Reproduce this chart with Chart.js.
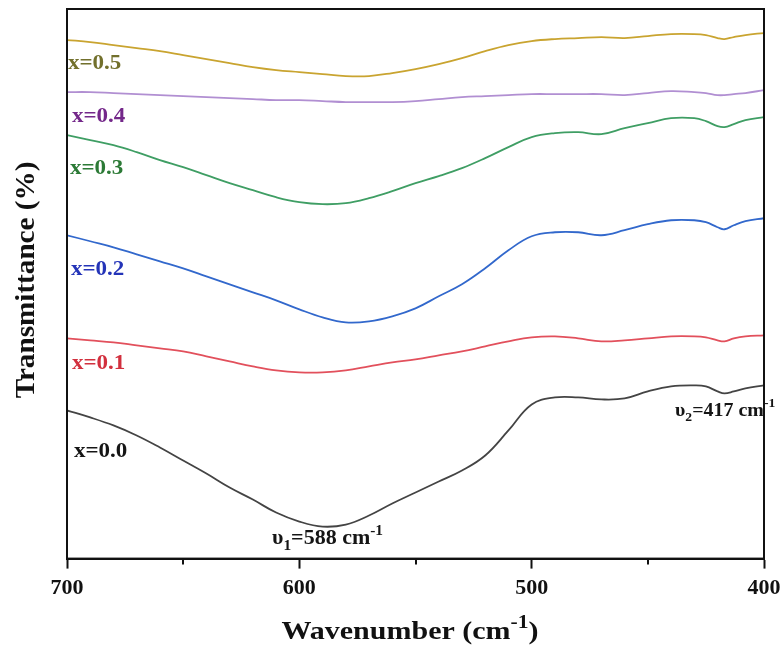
<!DOCTYPE html>
<html>
<head>
<meta charset="utf-8">
<script src="https://cdn.jsdelivr.net/npm/chart.js@4/dist/chart.umd.min.js"></script>
<style>
  html, body { margin: 0; padding: 0; background: #fff; }
  #wrap { width: 780px; height: 650px; }
</style>
</head>
<body>
<div id="wrap"><canvas id="ftir"></canvas></div>
<script>
// wavenumbers (cm-1)
var wavenumbers = [700, 690, 680, 670, 660, 650, 640, 630, 620, 610, 600, 590, 580, 570, 560, 550, 540, 530, 520, 510, 500, 490, 480, 470, 460, 450, 440, 430, 425, 420, 417, 413, 408, 400];

// transmittance, arbitrary offset units (curves are stacked)
var t00 = [148, 141, 133, 123, 111, 98, 85, 71, 59, 46, 37, 32, 34, 43, 55, 66, 77, 88, 103, 128, 154, 161, 161, 159, 160, 167, 172, 173, 172, 167, 165, 167, 170, 173];
var t01 = [220, 218, 216, 213, 210, 207, 202, 197, 192, 188, 186, 186, 188, 192, 196, 199, 203, 207, 212, 217, 221, 222, 220, 217, 218, 220, 222, 222, 221, 218, 217, 220, 222, 223];
var t02 = [323, 317, 311, 304, 297, 290, 282, 274, 266, 258, 249, 241, 236, 237, 242, 250, 262, 274, 290, 308, 322, 326, 326, 323, 328, 334, 338, 338, 336, 331, 329, 333, 337, 340];
var t03 = [423, 418, 413, 406, 398, 391, 383, 375, 368, 361, 356, 354, 355, 360, 367, 375, 382, 390, 400, 411, 421, 425, 426, 424, 430, 435, 440, 440, 437, 432, 431, 434, 438, 441];
var t04 = [466, 466, 465, 464, 463, 462, 461, 460, 459, 458, 458, 457, 456, 456, 456, 457, 459, 461, 462, 463, 464, 464, 464, 464, 463, 465, 467, 466, 465, 463, 463, 464, 465, 468];
var t05 = [518, 516, 513, 510, 507, 503, 499, 495, 491, 488, 486, 484, 482, 482, 485, 489, 494, 500, 507, 513, 517, 519, 520, 521, 520, 522, 524, 524, 523, 520, 519, 521, 523, 525];

var seriesNames = ['x=0.0', 'x=0.1', 'x=0.2', 'x=0.3', 'x=0.4', 'x=0.5'];
var seriesData = [t00, t01, t02, t03, t04, t05];
var lineColors = ['#444444', '#e2505c', '#3268cc', '#3f9e64', '#b18fd2', '#c9a430'];
var labelColors = ['#151515', '#d2303e', '#2434b8', '#2c7a36', '#74288a', '#72702c'];
var xTicks = [700, 600, 500, 400];
var xMinorTicks = [650, 550, 450];

var serif = '"Liberation Serif", "Times New Roman", serif';

function pts(ys) {
    var out = [];
    for (var i = 0; i < wavenumbers.length; i++) {
        out.push({x: wavenumbers[i], y: ys[i]});
    }
    return out;
}

var datasets = [];
for (var i = 0; i < seriesData.length; i++) {
    datasets.push({
        label: seriesNames[i],
        data: pts(seriesData[i]),
        borderColor: lineColors[i],
        borderWidth: 1.8,
        pointRadius: 0,
        tension: 0.4,
        fill: false
    });
}

// text with sub/superscript pieces: [text, 'n'|'sub'|'sup'], stretched sideways by sx
function drawRich(ctx, parts, x, y, size, sx) {
    ctx.save();
    ctx.translate(x, y);
    ctx.scale(sx, 1);
    var cx = 0;
    parts.forEach(function(p) {
        var s = p[1] === 'n' ? size : Math.round(size * 0.7);
        var dy = p[1] === 'sub' ? size * 0.28 : (p[1] === 'sup' ? -size * 0.45 : 0);
        ctx.font = 'bold ' + s + 'px ' + serif;
        ctx.fillText(p[0], cx, dy);
        cx += ctx.measureText(p[0]).width;
    });
    ctx.restore();
    return cx * sx;
}
function richWidth(ctx, parts, size, sx) {
    var w = 0;
    parts.forEach(function(p) {
        var s = p[1] === 'n' ? size : Math.round(size * 0.7);
        ctx.font = 'bold ' + s + 'px ' + serif;
        w += ctx.measureText(p[0]).width;
    });
    return w * sx;
}

var decorPlugin = {
    id: 'decor',
    afterDraw: function(chart) {
        var ctx = chart.ctx;
        var a = chart.chartArea;
        var xs = chart.scales.x;
        ctx.save();
        ctx.textBaseline = 'alphabetic';
        ctx.textAlign = 'left';

        // series labels
        var labelPos = [[74, 457], [72, 369], [71, 275], [70, 174], [72, 122], [68, 69]];
        for (var i = 0; i < seriesNames.length; i++) {
            ctx.fillStyle = labelColors[i];
            drawRich(ctx, [[seriesNames[i], 'n']], labelPos[i][0], labelPos[i][1], 20, 1.15);
        }

        // peak annotations
        ctx.fillStyle = '#151515';
        drawRich(ctx, [['\u03c5', 'n'], ['1', 'sub'], ['=588 cm', 'n'], ['-1', 'sup']], 272, 544, 20, 1.1);
        drawRich(ctx, [['\u03c5', 'n'], ['2', 'sub'], ['=417 cm', 'n'], ['-1', 'sup']], 675, 416, 19, 1.05);

        // frame
        ctx.strokeStyle = '#111';
        ctx.lineWidth = 2;
        ctx.strokeRect(a.left, a.top, a.right - a.left, a.bottom - a.top);

        // minor ticks
        ctx.beginPath();
        xMinorTicks.forEach(function(v) {
            var px = Math.round(xs.getPixelForValue(v));
            ctx.moveTo(px, a.bottom);
            ctx.lineTo(px, a.bottom + 6);
        });
        ctx.stroke();

        // axis titles
        ctx.fillStyle = '#111';
        var xt = [['Wavenumber (cm', 'n'], ['-1', 'sup'], [')', 'n']];
        var w = richWidth(ctx, xt, 25, 1.2);
        drawRich(ctx, xt, 410 - w / 2, 639, 25, 1.2);

        ctx.translate(34, 280);
        ctx.rotate(-Math.PI / 2);
        ctx.scale(1.08, 1);
        ctx.font = 'bold 27px ' + serif;
        ctx.textAlign = 'center';
        ctx.fillText('Transmittance (%)', 0, 0);
        ctx.restore();
    }
};

new Chart(document.getElementById('ftir'), {
    type: 'line',
    data: {datasets: datasets},
    options: {
        responsive: true,
        maintainAspectRatio: false,
        animation: false,
        layout: {padding: {left: 67, right: 16, top: 9, bottom: 41}},
        plugins: {
            legend: {display: false},
            tooltip: {enabled: false}
        },
        scales: {
            x: {
                type: 'linear',
                reverse: true,
                min: 400,
                max: 700,
                afterBuildTicks: function(scale) {
                    scale.ticks = xTicks.map(function(v) { return {value: v}; });
                },
                afterFit: function(scale) {
                    // let the end labels hang over the edge like the original
                    scale.paddingLeft = 0;
                    scale.paddingRight = 0;
                },
                ticks: {
                    color: '#111',
                    padding: 7,
                    maxRotation: 0,
                    font: {family: serif, size: 22, weight: 'bold'}
                },
                grid: {drawOnChartArea: false, tickLength: 10, tickWidth: 2, tickColor: '#111'},
                border: {display: true, color: '#111', width: 2}
            },
            y: {
                display: false,
                min: 0,
                max: 549
            }
        }
    },
    plugins: [decorPlugin]
});
</script>
</body>
</html>
